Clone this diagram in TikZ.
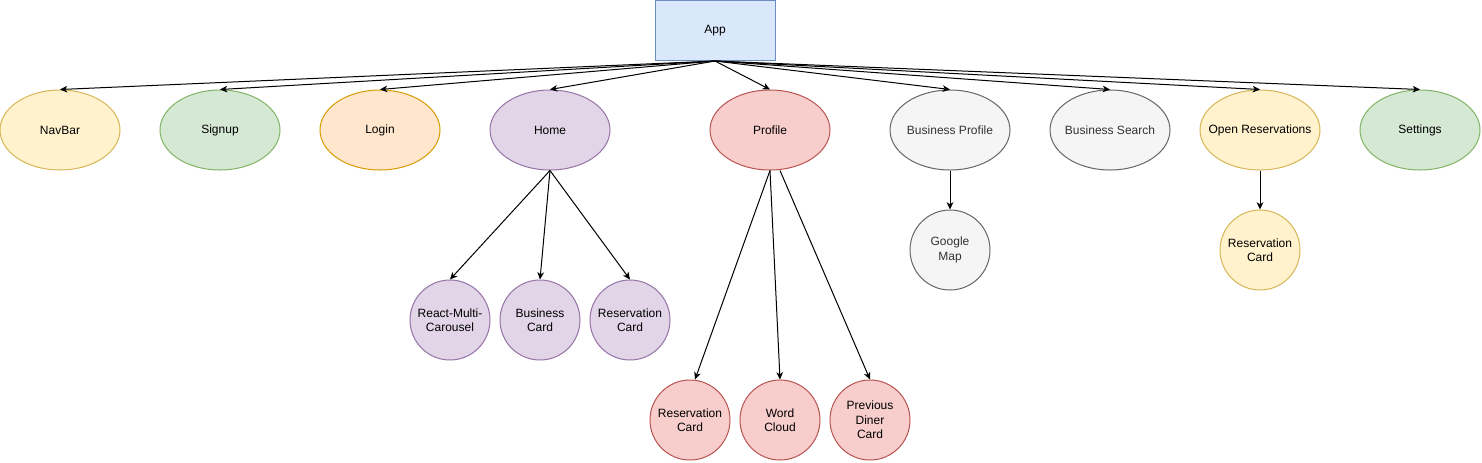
\documentclass[tikz,border=0pt]{standalone}
\usepackage{fontspec}
\setmainfont{Liberation Sans}
\usetikzlibrary{arrows.meta,shapes.geometric}
\definecolor{yellowF}{HTML}{FFF2CC}\definecolor{yellowD}{HTML}{D6B656}
\definecolor{greenF}{HTML}{D5E8D4}\definecolor{greenD}{HTML}{82B366}
\definecolor{orangeF}{HTML}{FFE6CC}\definecolor{orangeD}{HTML}{D79B00}
\definecolor{purpleF}{HTML}{E1D5E7}\definecolor{purpleD}{HTML}{9673A6}
\definecolor{redF}{HTML}{F8CECC}\definecolor{redD}{HTML}{B85450}
\definecolor{grayF}{HTML}{F5F5F5}\definecolor{grayD}{HTML}{666666}\definecolor{grayT}{HTML}{333333}
\definecolor{blueF}{HTML}{DAE8FC}\definecolor{blueD}{HTML}{6C8EBF}
\begin{document}
\begin{tikzpicture}[x=0.75pt,y=-0.75pt,
  txt/.style={font=\fontsize{9}{10.8}\selectfont, align=center, inner sep=0pt},
  comp/.style={ellipse, draw, line width=0.75pt, minimum width=90pt, minimum height=60pt, inner sep=0pt},
  circ/.style={circle, draw, line width=0.75pt, minimum size=60pt, inner sep=0pt},
  yel/.style={fill=yellowF, draw=yellowD},
  grn/.style={fill=greenF, draw=greenD},
  org/.style={fill=orangeF, draw=orangeD},
  pur/.style={fill=purpleF, draw=purpleD},
  red/.style={fill=redF, draw=redD},
  gry/.style={fill=grayF, draw=grayD},
  conn/.style={-{Stealth[length=5.5pt,width=5pt,inset=1.6pt]}, line width=0.75pt}]
\useasboundingbox (0,0) rectangle (1482,462);

\node[rectangle, draw=blueD, fill=blueF, line width=0.75pt, minimum width=90pt, minimum height=45pt,
  label={[txt]center:App}] (app) at (715,30.5) {};

\node[comp, yel, label={[txt]center:NavBar}] (navbar) at (60,130) {};
\node[comp, grn, label={[txt]center:Signup}] (signup) at (220,130) {};
\node[comp, org, label={[txt]center:Login}] (login) at (380,130) {};
\node[comp, pur, label={[txt]center:Home}] (home) at (550,130) {};
\node[comp, red, label={[txt]center:Profile}] (profile) at (770,130) {};
\node[comp, gry, label={[txt, text=grayT]center:Business Profile}] (bprofile) at (950,130) {};
\node[comp, gry, label={[txt, text=grayT]center:Business Search}] (bsearch) at (1110,130) {};
\node[comp, yel, label={[txt]center:Open Reservations}] (openres) at (1260,130) {};
\node[comp, grn, label={[txt]center:Settings}] (settings) at (1420,130) {};

\node[circ, pur, label={[txt]center:{React-Multi-\\Carousel}}] (carousel) at (450,320) {};
\node[circ, pur, label={[txt]center:{Business\\Card}}] (bcard) at (540,320) {};
\node[circ, pur, label={[txt]center:{Reservation\\Card}}] (hrescard) at (630,320) {};

\node[circ, red, label={[txt]center:{Reservation\\Card}}] (prescard) at (690,420) {};
\node[circ, red, label={[txt]center:{Word\\Cloud}}] (wordcloud) at (780,420) {};
\node[circ, red, label={[txt]center:{Previous\\Diner\\Card}}] (pdcard) at (870,420) {};

\node[circ, gry, label={[txt, text=grayT]center:{Google\\Map}}] (gmap) at (950,250) {};
\node[circ, yel, label={[txt]center:{Reservation\\Card}}] (orescard) at (1260,250) {};

\foreach \t in {navbar,signup,login,home,profile,bprofile,bsearch,openres,settings}
  \draw[conn] (app.south) -- (\t.north);

\foreach \t in {carousel,bcard,hrescard}
  \draw[conn] (home.south) -- (\t.north);

\draw[conn] (profile.south) -- ([xshift=3.75pt]prescard.north);
\draw[conn] (profile.south) -- (wordcloud.north);
\draw[conn] ([xshift=7.5pt]profile.south) -- (pdcard.north);

\draw[conn] (bprofile.south) -- (gmap.north);
\draw[conn] (openres.south) -- (orescard.north);
\end{tikzpicture}
\end{document}
